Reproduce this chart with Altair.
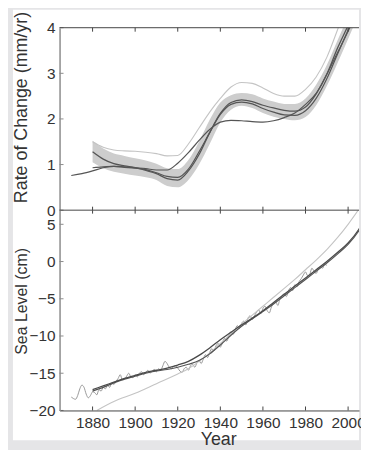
import altair as alt
import pandas as pd

# ---------------- data ----------------
x_ticks = [1880, 1900, 1920, 1940, 1960, 1980, 2000]
rate_ticks = [0, 1, 2, 3, 4]
sl_ticks = [-20, -15, -10, -5, 0, 5]

rate_years = [1880, 1885, 1890, 1895, 1900, 1905, 1910, 1915, 1920, 1925, 1930, 1935, 1940,
              1945, 1950, 1955, 1960, 1965, 1970, 1975, 1980, 1985, 1990, 1995, 2000, 2005]
rate_A = [1.28, 1.12, 1.02, 0.97, 0.93, 0.87, 0.80, 0.69, 0.66, 0.86, 1.22, 1.70, 2.12,
          2.36, 2.42, 2.38, 2.30, 2.24, 2.19, 2.17, 2.26, 2.55, 2.98, 3.55, 4.05, 4.60]
rate_D = [0.93, 0.95, 0.96, 0.94, 0.92, 0.89, 0.82, 0.74, 0.72, 0.90, 1.28, 1.70, 2.10,
          2.32, 2.37, 2.33, 2.23, 2.15, 2.09, 2.08, 2.18, 2.45, 2.88, 3.42, 3.95, 4.50]
rate_lo = [1.05, 0.92, 0.84, 0.80, 0.76, 0.72, 0.66, 0.53, 0.50, 0.66, 1.00, 1.45, 1.92,
           2.20, 2.29, 2.24, 2.13, 2.05, 2.00, 1.97, 2.04, 2.30, 2.72, 3.22, 3.75, 4.30]
rate_hi = [1.52, 1.35, 1.24, 1.19, 1.14, 1.09, 1.02, 0.92, 0.90, 1.10, 1.50, 1.98, 2.36,
           2.52, 2.57, 2.54, 2.45, 2.38, 2.33, 2.33, 2.45, 2.75, 3.18, 3.72, 4.25, 4.80]
rate_B = [1.50, 1.38, 1.32, 1.30, 1.29, 1.27, 1.24, 1.19, 1.20, 1.45, 1.80, 2.15, 2.45,
          2.70, 2.80, 2.78, 2.68, 2.56, 2.50, 2.50, 2.65, 2.92, 3.35, 3.95, 4.60, 5.30]
rate_C_years = [1870, 1875] + rate_years
rate_C = [0.76, 0.80, 0.86, 0.93, 0.96, 0.95, 0.93, 0.91, 0.88, 0.88, 1.03, 1.26, 1.53, 1.77,
          1.93, 1.97, 1.96, 1.94, 1.93, 1.96, 2.03, 2.13, 2.32, 2.56, 2.98, 3.45, 3.92, 4.45]

sl_years = [1880, 1885, 1890, 1895, 1900, 1905, 1910, 1915, 1920, 1925, 1930, 1935, 1940,
            1945, 1950, 1955, 1960, 1965, 1970, 1975, 1980, 1985, 1990, 1995, 2000, 2005, 2010]
sl_D1 = [-17.2, -16.7, -16.2, -15.7, -15.3, -14.9, -14.6, -14.3, -13.9, -13.4, -12.6, -11.6, -10.5,
         -9.5, -8.5, -7.6, -6.6, -5.5, -4.4, -3.3, -2.2, -1.1, 0.0, 1.2, 2.5, 4.3, 6.9]
sl_D2 = [-17.4, -16.9, -16.3, -15.8, -15.4, -15.0, -14.7, -14.5, -14.2, -13.8, -13.3, -12.4, -11.2,
         -9.9, -8.7, -7.7, -6.7, -5.7, -4.6, -3.5, -2.4, -1.3, -0.2, 1.0, 2.3, 4.1, 6.6]
sl_L_years = [1882, 1890, 1900, 1910, 1920, 1925, 1930, 1935, 1940, 1945, 1950, 1955,
              1960, 1965, 1970, 1975, 1980, 1985, 1990, 1995, 2000, 2005]
sl_L = [-20.0, -18.8, -17.7, -16.4, -15.1, -14.4, -13.4, -12.3, -11.0, -9.7, -8.4, -7.2,
        -6.0, -4.8, -3.6, -2.4, -1.1, 0.2, 1.6, 3.2, 5.0, 7.0]
sl_N_years = list(range(1870, 1991))
sl_N = [-18.2, -18.4, -18.5, -18.0, -17.1, -16.6, -16.9, -17.8, -18.3, -18.0,
        -17.5, -17.6, -17.9, -17.2, -17.4, -16.9, -17.1, -16.6, -16.9, -16.3,
        -16.5, -16.1, -15.7, -15.2, -15.9, -15.8, -15.4, -15.0, -15.5, -15.6,
        -15.2, -15.5, -15.0, -14.8, -15.2, -14.9, -14.6, -15.0, -14.7, -14.5,
        -14.8, -14.4, -14.6, -14.0, -13.4, -13.7, -14.2, -14.4, -14.1, -14.0,
        -14.3, -14.7, -14.9, -14.4, -14.2, -14.6, -14.0, -13.8, -14.2, -13.6,
        -13.3, -13.7, -13.1, -12.5, -12.9, -12.2, -11.7, -12.0, -11.3, -11.0,
        -11.5, -10.9, -10.3, -10.7, -10.0, -9.4, -9.8, -9.1, -8.6, -9.0,
        -8.3, -8.0, -8.5, -7.6, -7.3, -7.8, -7.3, -6.8, -6.5, -7.0,
        -6.3, -6.0, -6.6, -6.9, -6.1, -5.6, -5.4, -5.9, -5.0, -4.6,
        -4.3, -4.7, -3.9, -3.5, -3.9, -3.1, -3.4, -2.7, -2.3, -1.8,
        -1.4, -1.9, -1.7, -0.9, -1.3, -1.6, -1.0, -0.7, -0.9, -0.4,
        -0.5]

# ---------------- styling ----------------
W, H1, H2 = 302, 184, 202
X0 = 1864.5
X1 = X0 + W / 2.1475
DARK = "#555555"
LIGHT = "#c4c4c4"
BAND = "#cdcdcd"
AXC = "#444444"
LFONT = "Liberation Sans Narrow, Arial Narrow, Liberation Sans, Arial, sans-serif"
TFONT = "Liberation Sans, Arial, sans-serif"

xsc = alt.Scale(domain=[X0, X1], nice=False, zero=False)
ysc1 = alt.Scale(domain=[0, 4], nice=False)
ysc2 = alt.Scale(domain=[-20, 6.9], nice=False)

one = pd.DataFrame({"a": [0]})


def yaxis(vals, title, size, ty):
    return alt.Axis(values=vals, format="d", ticks=False, labelPadding=4.5, labelFont=LFONT,
                    labelFontSize=15.5, labelColor="#333333", labelOverlap=False,
                    domainColor="#8c8c8c", domainWidth=1.5, grid=False, title=title,
                    titleFont=TFONT, titleFontSize=size, titleFontWeight="normal",
                    titleColor="#333333", titleX=-38, titleY=ty, titleAlign="center",
                    titleBaseline="middle", titleAngle=270, zindex=1)


ya1 = yaxis(rate_ticks, "Rate of Change (mm/yr)", 18, 80)
ya2 = yaxis(sl_ticks, "Sea Level (cm)", 16, 91.5)
xa2 = alt.Axis(values=x_ticks, format="d", ticks=False, domainColor=AXC, domainWidth=1,
               labelPadding=5, labelFont=LFONT, labelFontSize=15.5, labelColor="#333333",
               labelFlush=False, labelOverlap=False, grid=False, title="Year",
               titleFont=LFONT, titleFontSize=18, titleFontWeight="normal",
               titleColor="#333333", titleX=160, titleY=34, titleBaseline="alphabetic",
               titleAlign="center", zindex=1)


def line(years, vals, color, width, ysc, yax, xax=None):
    df = pd.DataFrame({"year": years, "v": vals})
    return alt.Chart(df).mark_line(color=color, strokeWidth=width, clip=True,
                                   interpolate="monotone").encode(
        x=alt.X("year:Q", scale=xsc, axis=xax),
        y=alt.Y("v:Q", scale=ysc, axis=yax))


# ---------------- top panel ----------------
white = alt.Chart(one).mark_rect(color="white").encode(
    x=alt.value(-47), x2=alt.value(W), y=alt.value(-18), y2=alt.value(H1 + H2 + 30))

band_df = pd.DataFrame({"year": rate_years, "lo": rate_lo, "hi": rate_hi})
band = alt.Chart(band_df).mark_area(color=BAND, opacity=1, clip=True,
                                    interpolate="monotone").encode(
    x=alt.X("year:Q", scale=xsc, axis=None),
    y=alt.Y("lo:Q", scale=ysc1, axis=ya1),
    y2="hi:Q")

xt = pd.DataFrame({"year": x_ticks})
ytt = pd.DataFrame({"v": rate_ticks})
yts = pd.DataFrame({"v": sl_ticks})

top_ticks_a = alt.Chart(xt).mark_rule(color=AXC).encode(
    x=alt.X("year:Q", scale=xsc, axis=None), y=alt.value(0), y2=alt.value(4))
top_ticks_b = alt.Chart(xt).mark_rule(color=AXC).encode(
    x=alt.X("year:Q", scale=xsc, axis=None), y=alt.value(H1 - 3.5), y2=alt.value(H1))
top_yticks = alt.Chart(ytt).mark_rule(color="#8c8c8c").encode(
    y=alt.Y("v:Q", scale=ysc1, axis=ya1), x=alt.value(0), x2=alt.value(4))
top_border = alt.Chart(one).mark_rule(color=AXC, strokeWidth=1).encode(
    x=alt.value(0), x2=alt.value(W), y=alt.value(0))

top = alt.layer(
    white, band,
    line(rate_years, rate_B, LIGHT, 1.1, ysc1, ya1),
    line(rate_C_years, rate_C, DARK, 1.2, ysc1, ya1),
    line(rate_years, rate_D, DARK, 1.2, ysc1, ya1),
    line(rate_years, rate_A, DARK, 1.3, ysc1, ya1),
    top_ticks_a, top_ticks_b, top_yticks, top_border,
).properties(width=W, height=H1)

# ---------------- bottom panel ----------------
bot_ticks_a = alt.Chart(xt).mark_rule(color=AXC).encode(
    x=alt.X("year:Q", scale=xsc, axis=xa2), y=alt.value(0), y2=alt.value(3.5))
bot_ticks_b = alt.Chart(xt).mark_rule(color=AXC).encode(
    x=alt.X("year:Q", scale=xsc, axis=xa2), y=alt.value(H2 - 4), y2=alt.value(H2))
bot_yticks = alt.Chart(yts).mark_rule(color="#8c8c8c").encode(
    y=alt.Y("v:Q", scale=ysc2, axis=ya2), x=alt.value(0), x2=alt.value(4))
bot_border = alt.Chart(one).mark_rule(color=AXC, strokeWidth=1).encode(
    x=alt.value(0), x2=alt.value(W), y=alt.value(0))

bottom = alt.layer(
    line(sl_N_years, sl_N, "#8e8e8e", 0.9, ysc2, ya2, xa2),
    line(sl_L_years, sl_L, LIGHT, 1.1, ysc2, ya2, xa2),
    line(sl_years, sl_D2, DARK, 1.2, ysc2, ya2, xa2),
    line(sl_years, sl_D1, "#4a4a4a", 1.3, ysc2, ya2, xa2),
    bot_ticks_a, bot_ticks_b, bot_yticks, bot_border,
).properties(width=W, height=H2)

chart = alt.vconcat(top, bottom, spacing=0, bounds="flush").configure_view(
    stroke=None
).properties(
    background="#e5e5e7",
    padding={"left": 4, "top": 0, "right": -5, "bottom": 0},
)

chart.save("out.html", embed_options={"renderer": "svg", "actions": False})
